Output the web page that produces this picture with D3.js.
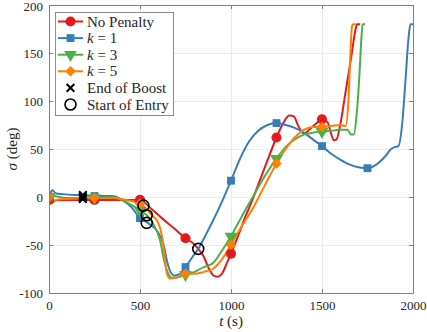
<!DOCTYPE html>
<html>
<head>
<meta charset="utf-8">
<script src="https://cdn.jsdelivr.net/npm/d3@7"></script>
<style>
  body { margin: 0; background: #fff; }
  text { font-family: "Liberation Serif", "DejaVu Serif", serif; }
</style>
</head>
<body>
<div id="chart"></div>
<script>
// series: [t (s), sigma (deg)]
const noPenalty = [[0,-3],[20,-4],[60,-3],[150,-3],[250,-3],[350,-3],[450,-3],[500,-3],[560,-12],[620,-22],[690,-33],[750,-43],[790,-48],[820,-54],[850,-62],[880,-75],[905,-82],[925,-83],[950,-80],[975,-70],[1000,-59],[1040,-40],[1080,-20],[1120,-2],[1160,18],[1200,38],[1250,62],[1290,78],[1320,85],[1345,84],[1370,74],[1400,66],[1430,70],[1465,76],[1500,81],[1530,78],[1550,66],[1565,59],[1580,60],[1600,75],[1630,110],[1660,145],[1685,175],[1692,180],[1710,180]];
const k1 = [[0,0],[10,5],[20,7],[35,4],[80,3],[150,2],[250,1],[350,1],[400,-3],[450,-10],[500,-22],[550,-28],[600,-37],[630,-50],[650,-68],[670,-79],[690,-82],[720,-80],[750,-73],[790,-62],[820,-54],[860,-40],[900,-25],[950,-5],[1000,17],[1050,40],[1100,58],[1150,69],[1200,75],[1250,77],[1300,75],[1350,72],[1400,67],[1450,60],[1500,53],[1550,45],[1600,39],[1650,34],[1700,31],[1750,30],[1800,34],[1850,43],[1880,50],[1900,52],[1920,53],[1940,75],[1960,125],[1975,165],[1986,180],[2000,180]];
const k3 = [[0,0],[10,2],[30,1],[100,-1],[250,-1],[350,0],[400,-3],[450,-8],[500,-14],[537,-19],[570,-27],[610,-45],[635,-68],[655,-80],[675,-84],[700,-84],[750,-81],[800,-78],[850,-73],[900,-69],[950,-56],[1000,-41],[1060,-20],[1120,0],[1180,20],[1250,40],[1300,52],[1350,60],[1400,65],[1450,67],[1500,68],[1550,69],[1600,70],[1640,70],[1660,65],[1675,65],[1690,85],[1705,125],[1718,170],[1723,180],[1737,180]];
const k5 = [[0,0],[8,-4],[18,-6],[40,-3],[100,-2],[250,-1],[350,-1],[420,-3],[470,-5],[500,-7],[520,-10],[560,-18],[600,-27],[620,-40],[635,-62],[648,-80],[665,-85],[700,-84],[750,-80],[800,-80],[850,-78],[900,-75],[950,-65],[1000,-50],[1060,-30],[1120,-12],[1180,10],[1250,35],[1300,50],[1350,62],[1400,70],[1450,73],[1500,73],[1550,74],[1600,75],[1630,74],[1645,100],[1655,145],[1665,178],[1670,180],[1685,180]];

const markerTimes = [0, 250, 500, 750, 1000, 1250, 1500, 1750];

// events
const boostT = [186, 186, 186, 186];
const boostS = [-2, 2, 0, -1];
const entryT = [820, 537, 537, 519];
const entryS = [-54, -27, -19, -9];

const seriesNames = ["No Penalty", "k = 1", "k = 3", "k = 5"];
const seriesData = [noPenalty, k1, k3, k5];
const colors = ["#e41a1c", "#377eb8", "#4daf4a", "#ff7f00"];

const xTicks = [0, 500, 1000, 1500, 2000];
const yTicks = [-100, -50, 0, 50, 100, 150, 200];

const width = 427, height = 332;
const marginLeft = 49, marginRight = 14, marginTop = 5, marginBottom = 39;

const x = d3.scaleLinear().domain([0, 2000]).range([marginLeft, width - marginRight]);
const y = d3.scaleLinear().domain([-100, 200]).range([height - marginBottom, marginTop]);

const svg = d3.select("#chart").append("svg")
    .attr("width", width)
    .attr("height", height);

const plotW = width - marginLeft - marginRight;
const plotH = height - marginTop - marginBottom;

// grid
svg.append("g")
    .attr("transform", `translate(0,${height - marginBottom})`)
    .call(d3.axisBottom(x).tickValues(xTicks).tickSize(-plotH).tickFormat(""))
    .call(g => g.select(".domain").remove())
    .call(g => g.selectAll("line").attr("stroke", "#ebebeb"));
svg.append("g")
    .attr("transform", `translate(${marginLeft},0)`)
    .call(d3.axisLeft(y).tickValues(yTicks).tickSize(-plotW).tickFormat(""))
    .call(g => g.select(".domain").remove())
    .call(g => g.selectAll("line").attr("stroke", "#ebebeb"));

// clip
svg.append("defs").append("clipPath")
    .attr("id", "clip")
    .append("rect")
    .attr("x", marginLeft).attr("y", marginTop - 2)
    .attr("width", plotW).attr("height", plotH + 4);

const line = d3.line()
    .curve(d3.curveMonotoneX)
    .x(d => x(d[0]))
    .y(d => y(d[1]));

const symbols = [
    d3.symbol().type(d3.symbolCircle).size(80),
    d3.symbol().type(d3.symbolSquare).size(62),
    d3.symbol().type(d3.symbolTriangle).size(70),
    d3.symbol().type(d3.symbolSquare).size(56)
];
const rotations = [0, 0, 180, 45];

// value of a series at a marker time (marker times are data points)
function valueAt(data, t) {
    const p = data.find(d => d[0] === t);
    return p ? p[1] : null;
}

const plot = svg.append("g").attr("clip-path", "url(#clip)");

seriesData.forEach((data, i) => {
    plot.append("path")
        .attr("d", line(data))
        .attr("fill", "none")
        .attr("stroke", colors[i])
        .attr("stroke-width", 2);
});

seriesData.forEach((data, i) => {
    const pts = markerTimes.filter(t => valueAt(data, t) !== null).map(t => [t, valueAt(data, t)]);
    plot.selectAll(null)
        .data(pts)
        .join("path")
        .attr("d", symbols[i])
        .attr("transform", d => `translate(${x(d[0])},${y(d[1])}) rotate(${rotations[i]})`)
        .attr("fill", colors[i]);
});

// end of boost
const cross = d3.symbol().type(d3.symbolX).size(40);
svg.append("g").selectAll("path")
    .data(d3.range(boostT.length))
    .join("path")
    .attr("d", cross)
    .attr("transform", i => `translate(${x(boostT[i])},${y(boostS[i])})`)
    .attr("fill", "none")
    .attr("stroke", "#000")
    .attr("stroke-width", 2);

// start of entry
svg.append("g").selectAll("circle")
    .data(d3.range(entryT.length))
    .join("circle")
    .attr("cx", i => x(entryT[i]))
    .attr("cy", i => y(entryS[i]))
    .attr("r", 5.5)
    .attr("fill", "none")
    .attr("stroke", "#000")
    .attr("stroke-width", 1.6);

// axes
const axisColor = "#808080";
const styleAxis = g => {
    g.select(".domain").attr("stroke", axisColor);
    g.selectAll(".tick line").attr("stroke", axisColor);
    g.selectAll(".tick text").attr("fill", "#262626").style("font-size", "13px")
        .style("font-family", '"Liberation Serif", serif');
};
svg.append("g")
    .attr("transform", `translate(0,${height - marginBottom})`)
    .call(d3.axisBottom(x).tickValues(xTicks).tickSize(-4).tickSizeOuter(0).tickPadding(8).tickFormat(d3.format("d")))
    .call(styleAxis);
svg.append("g")
    .attr("transform", `translate(0,${marginTop})`)
    .call(d3.axisTop(x).tickValues(xTicks).tickSize(-4).tickSizeOuter(0).tickFormat(""))
    .call(styleAxis);
svg.append("g")
    .attr("transform", `translate(${marginLeft},0)`)
    .call(d3.axisLeft(y).tickValues(yTicks).tickSize(-4).tickSizeOuter(0).tickPadding(6).tickFormat(d => d < 0 ? "-" + Math.abs(d) : d))
    .call(styleAxis)
    .call(g => g.selectAll(".tick text").filter(d => d === 200).attr("dy", "0.45em"));
svg.append("g")
    .attr("transform", `translate(${width - marginRight},0)`)
    .call(d3.axisRight(y).tickValues(yTicks).tickSize(-4).tickSizeOuter(0).tickFormat(""))
    .call(styleAxis);

// axis labels
const xl = svg.append("text")
    .attr("x", x(1000)).attr("y", 326)
    .attr("text-anchor", "middle")
    .attr("font-size", 15)
    .attr("fill", "#262626");
xl.append("tspan").attr("font-style", "italic").text("t");
xl.append("tspan").text(" (s)");

const yl = svg.append("text")
    .attr("transform", `translate(17,${y(50)}) rotate(-90)`)
    .attr("text-anchor", "middle")
    .attr("font-size", 15)
    .attr("fill", "#262626");
yl.append("tspan").attr("font-style", "italic").text("σ");
yl.append("tspan").text(" (deg)");

// legend
const legend = svg.append("g");
legend.append("rect")
    .attr("x", 55.5).attr("y", 12.5)
    .attr("width", 118).attr("height", 103)
    .attr("fill", "#fff")
    .attr("stroke", "#8c8c8c");

const rowY = i => 21.5 + i * 16.6;
seriesNames.forEach((name, i) => {
    legend.append("line")
        .attr("x1", 58).attr("x2", 83)
        .attr("y1", rowY(i)).attr("y2", rowY(i))
        .attr("stroke", colors[i]).attr("stroke-width", 2);
    legend.append("path")
        .attr("d", symbols[i])
        .attr("transform", `translate(70.5,${rowY(i)}) rotate(${rotations[i]})`)
        .attr("fill", colors[i]);
    const t = legend.append("text")
        .attr("x", 87).attr("y", rowY(i) + 5)
        .attr("font-size", 15)
        .attr("fill", "#262626");
    if (i === 0) {
        t.text(name);
    } else {
        t.append("tspan").attr("font-style", "italic").text("k");
        t.append("tspan").text(name.slice(1));
    }
});
legend.append("path")
    .attr("d", cross)
    .attr("transform", `translate(70.5,${rowY(4)})`)
    .attr("fill", "none").attr("stroke", "#000").attr("stroke-width", 2);
legend.append("text")
    .attr("x", 87).attr("y", rowY(4) + 5)
    .attr("font-size", 15).attr("fill", "#262626")
    .text("End of Boost");
legend.append("circle")
    .attr("cx", 70.5).attr("cy", rowY(5)).attr("r", 5.5)
    .attr("fill", "none").attr("stroke", "#000").attr("stroke-width", 1.6);
legend.append("text")
    .attr("x", 87).attr("y", rowY(5) + 5)
    .attr("font-size", 15).attr("fill", "#262626")
    .text("Start of Entry");
</script>
</body>
</html>
